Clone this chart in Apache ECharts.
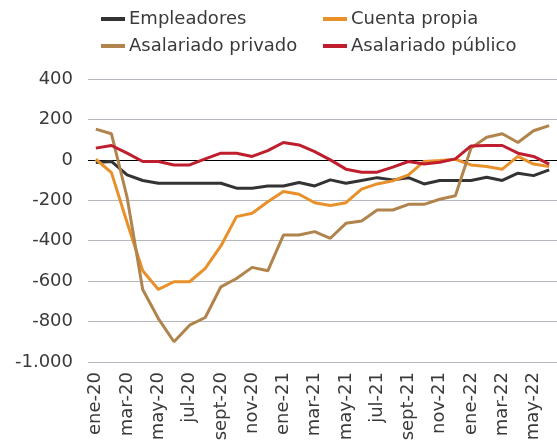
<!DOCTYPE html>
<html>
<head>
<meta charset="utf-8">
<script src="https://cdn.jsdelivr.net/npm/echarts@6/dist/echarts.min.js"></script>
<style>
  * { margin: 0; padding: 0; }
  #chart1 { width: 557px; height: 448px; background: #fff; }
</style>
</head>
<body>
<div id="chart1"></div>
<script>
var months = ['ene-20','feb-20','mar-20','abr-20','may-20','jun-20','jul-20','ago-20','sept-20','oct-20','nov-20','dic-20',
  'ene-21','feb-21','mar-21','abr-21','may-21','jun-21','jul-21','ago-21','sept-21','oct-21','nov-21','dic-21',
  'ene-22','feb-22','mar-22','abr-22','may-22','jun-22'];

var empleadores = [-13,-8,-74,-102,-116,-116,-116,-116,-116,-140,-140,-129,
  -129,-112,-129,-99,-116,-102,-88,-99,-88,-119,-102,-102,
  -102,-86,-102,-66,-78,-50];
var cuentaPropia = [3,-63,-310,-549,-641,-603,-603,-537,-426,-281,-264,-207,
  -157,-170,-212,-226,-212,-145,-119,-104,-74,-8,-3,3,
  -25,-33,-46,17,-21,-33];
var asalPrivado = [152,129,-185,-641,-785,-900,-818,-780,-628,-587,-532,-549,
  -372,-372,-355,-388,-314,-302,-248,-248,-220,-220,-195,-178,
  58,112,129,86,144,169];
var asalPublico = [58,71,33,-8,-8,-25,-25,5,33,33,17,46,
  86,74,41,0,-46,-61,-61,-36,-8,-21,-12,5,
  69,71,71,33,17,-21];

var FONT = 'DejaVu Sans';
var chart = echarts.init(document.getElementById('chart1'));

function mkSeries(name, data, color) {
  return {
    name: name,
    type: 'line',
    data: data,
    symbol: 'none',
    lineStyle: { width: 3, color: color },
    itemStyle: { color: color },
    z: 3
  };
}

var series = [
  mkSeries('Empleadores', empleadores, '#333333'),
  mkSeries('Cuenta propia', cuentaPropia, '#E8902A'),
  mkSeries('Asalariado privado', asalPrivado, '#B0844C'),
  mkSeries('Asalariado público', asalPublico, '#BE1E2D')
];
// linea del cero
series[0].markLine = {
  silent: true,
  symbol: 'none',
  label: { show: false },
  lineStyle: { color: '#000', width: 1, type: 'solid' },
  data: [{ yAxis: 0 }],
  z: 2
};

var legendBase = {
  orient: 'vertical',
  top: 5,
  itemWidth: 24, itemHeight: 4, itemGap: 9,
  icon: 'rect',
  textStyle: { fontFamily: FONT, fontSize: 18, color: '#3a3a3a', padding: [0, 0, 0, -1] }
};

chart.setOption({
  animation: false,
  legend: [
    Object.assign({}, legendBase, { left: 96, data: ['Empleadores', 'Asalariado privado'] }),
    Object.assign({}, legendBase, { left: 318, data: ['Cuenta propia', 'Asalariado público'] })
  ],
  grid: { left: 88, right: -4, top: 79, bottom: 86 },
  xAxis: {
    type: 'category',
    data: months,
    boundaryGap: true,
    axisLine: { show: false },
    axisTick: { show: false },
    axisLabel: {
      interval: 1,
      rotate: 90,
      margin: 10,
      fontFamily: FONT,
      fontSize: 18,
      color: '#3a3a3a'
    }
  },
  yAxis: {
    type: 'value',
    min: -1000, max: 400, interval: 200,
    axisLine: { show: false },
    axisTick: { show: false },
    splitLine: { lineStyle: { color: '#B4B8BE', width: 1 } },
    axisLabel: {
      margin: 15,
      fontFamily: FONT,
      fontSize: 18,
      color: '#3a3a3a',
      formatter: function (v) {
        return v === -1000 ? '-1.000' : String(v);
      }
    }
  },
  series: series
});
</script>
</body>
</html>
